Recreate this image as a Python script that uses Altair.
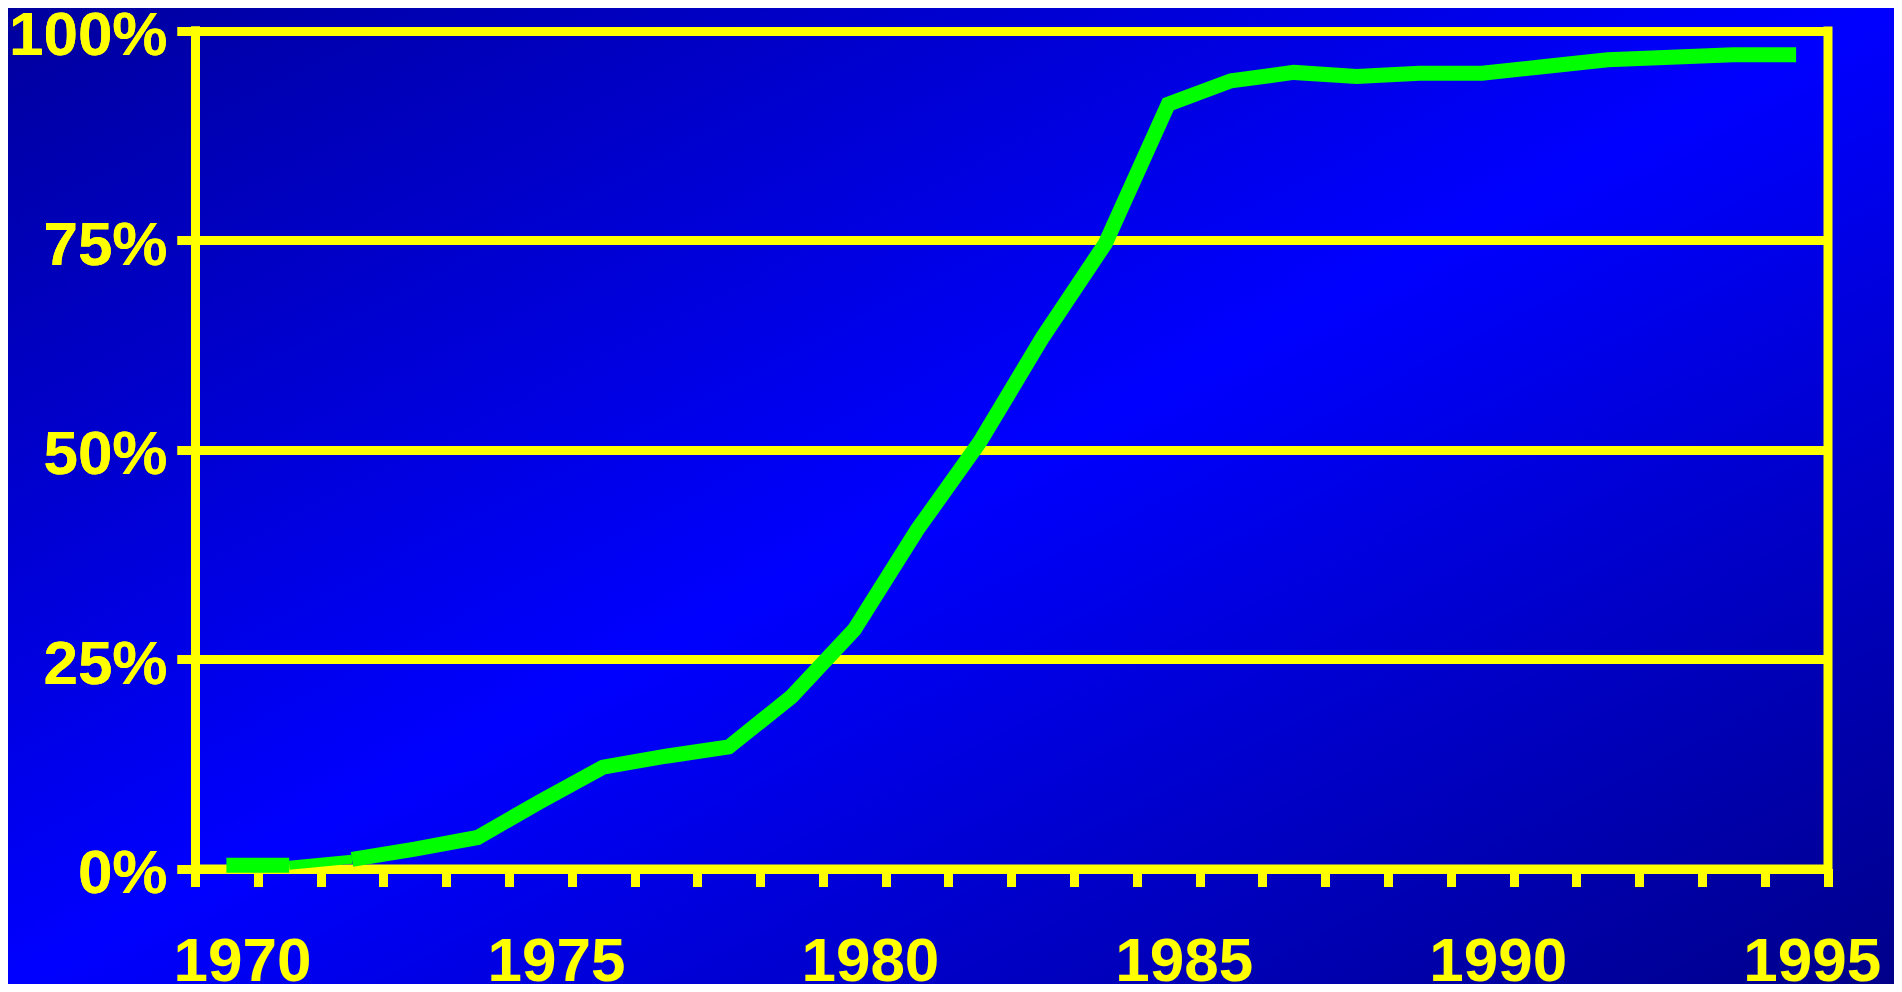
import altair as alt
import pandas as pd

# ---- data ----
years = list(range(1970, 1996))
share = [0.4, 0.4, 1.1, 2.3, 3.7, 8.0, 12.1, 13.4, 14.5, 20.5, 28.5, 40.4, 50.9,
         63.4, 74.6, 91.2, 94.0, 95.0, 94.5, 94.9, 94.9, 95.7, 96.5, 96.8, 97.1, 97.1]
x_labels = ["1970", "1975", "1980", "1985", "1990", "1995"]
y_ticks = [0, 25, 50, 75, 100]
# the original draws the 1971-1972 piece of the line thinner
thin_piece = (1971, 1972)

# ---- table built from the arrays ----
rows = []
pieces = [("a", years[0], thin_piece[0]), ("b", thin_piece[0], thin_piece[1]),
          ("c", thin_piece[1], years[-1])]
for name, start, end in pieces:
    for yr, v in zip(years, share):
        if start <= yr <= end:
            rows.append({"year": yr, "share": v, "piece": name})
df = pd.DataFrame(rows)

tick_edges = [y - 0.5 for y in years] + [years[-1] + 0.5]

# ---- style / layout ----
W, H = 1886, 976
X0, X1 = 187, 1819.5
Y0, Y1 = 860.5, 22.5
YEL = "#FFFF00"
GREEN = "#00FF00"
FONT = "Liberation Sans"
LW = 9

label_list = "[" + ",".join("'%s'" % s for s in x_labels) + "]"
x_label_expr = ("indexof(%s, format(datum.value + 0.5, 'd')) >= 0 ? "
                "format(datum.value + 0.5, 'd') : ''") % label_list

x_scale = alt.Scale(domain=[tick_edges[0], tick_edges[-1]], range=[X0, X1],
                    nice=False, zero=False)
y_scale = alt.Scale(domain=[y_ticks[0], y_ticks[-1]], range=[Y0, Y1], nice=False)

x_axis = alt.Axis(values=tick_edges, orient="bottom", offset=Y0 - H, title=None,
                  domainColor=YEL, domainWidth=LW,
                  tickColor=YEL, tickWidth=LW, tickSize=18, grid=False,
                  labelExpr=x_label_expr, labelFont=FONT, labelFontWeight="bold",
                  labelFontSize=62, labelColor=YEL, labelAlign="center",
                  labelPadding=45, labelOffset=47,
                  labelOverlap=False, labelFlush=False)

y_axis = alt.Axis(values=y_ticks, orient="left", offset=-X0, title=None,
                  domainColor=YEL, domainWidth=LW, domainCap="square",
                  tickColor=YEL, tickWidth=LW, tickSize=18,
                  grid=True, gridColor=YEL, gridWidth=LW, gridOpacity=1,
                  labelExpr="datum.value + '%'", labelFont=FONT,
                  labelFontWeight="bold", labelFontSize=62, labelColor=YEL,
                  labelAlign="right", labelBaseline="middle", labelPadding=10,
                  labelOffset=5, labelOverlap=False, labelFlush=False)

right_axis = alt.Axis(orient="right", offset=X1 - W, title=None,
                      domainColor=YEL, domainWidth=LW, domainCap="square",
                      ticks=False, labels=False, grid=False)

base = alt.Chart(df)

thick = base.transform_filter("datum.piece != 'b'").mark_line(
    color=GREEN, strokeWidth=15, strokeJoin="miter", strokeCap="butt"
).encode(
    x=alt.X("year:Q", scale=x_scale, axis=x_axis),
    y=alt.Y("share:Q", scale=y_scale, axis=y_axis),
    detail="piece:N",
)

thin = base.transform_filter("datum.piece == 'b'").mark_line(
    color=GREEN, strokeWidth=9, strokeCap="butt"
).encode(
    x=alt.X("year:Q", scale=x_scale, axis=x_axis),
    y=alt.Y("share:Q", scale=y_scale, axis=y_axis),
)

frame = base.transform_filter("datum.piece == 'c'").mark_line(
    strokeOpacity=0
).encode(
    x=alt.X("year:Q", scale=x_scale, axis=x_axis),
    y=alt.Y("share:Q", scale=y_scale, axis=right_axis),
)

gradient = {
    "gradient": "linear", "x1": 0, "y1": 0, "x2": 1, "y2": 1,
    "stops": [
        {"offset": 0, "color": "#00009e"},
        {"offset": 0.5, "color": "#0000ff"},
        {"offset": 1, "color": "#00008a"},
    ],
}

chart = alt.layer(thick, thin, frame).resolve_axis(y="independent").properties(
    width=W, height=H, autosize=alt.AutoSizeParams(type="none"), padding=0
).configure(
    background="#0000cc",
    view=alt.ViewConfig(stroke="transparent", strokeWidth=0),
    style={"cell": {"fill": gradient, "stroke": "transparent"}},
)

chart.save("out.html", embed_options={"renderer": "svg", "actions": False})
